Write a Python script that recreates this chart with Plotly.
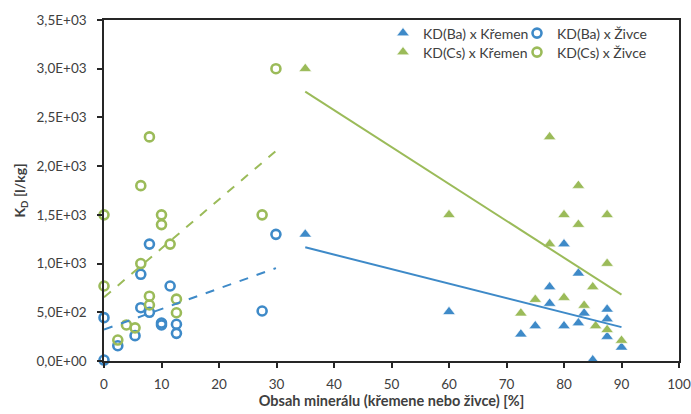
import numpy as np
import plotly.graph_objects as go

# ---- data ----
ba_krem_x = [35, 60, 72.5, 75, 77.5, 77.5, 80, 80, 82.5, 82.5, 83.5, 85, 87.5, 87.5, 87.5, 90]
ba_krem_y = [1300, 505, 275, 360, 760, 590, 1200, 360, 900, 390, 490, 10, 530, 430, 250, 140]

ba_ziv_x = [0, 0, 2.4, 5.4, 6.4, 6.4, 7.9, 7.9, 10, 10, 11.5, 12.6, 12.6, 27.5, 29.9]
ba_ziv_y = [10, 445, 157, 260, 547, 890, 500, 1200, 370, 390, 770, 377, 284, 513, 1300]

cs_krem_x = [35, 60, 72.5, 75, 77.5, 77.5, 80, 80, 82.5, 82.5, 83.5, 85, 85.5, 87.5, 87.5, 87.5, 90]
cs_krem_y = [3000, 1500, 490, 630, 2300, 1200, 1500, 650, 1800, 1400, 570, 760, 360, 1500, 1000, 320, 210]

cs_ziv_x = [0, 0, 2.4, 3.9, 5.4, 6.4, 6.4, 7.9, 7.9, 7.9, 10, 10, 11.5, 12.6, 12.6, 27.5, 29.9]
cs_ziv_y = [1500, 770, 215, 370, 340, 1800, 1000, 2300, 665, 575, 1500, 1400, 1200, 635, 495, 1500, 3000]

y_tickvals = [0, 500, 1000, 1500, 2000, 2500, 3000, 3500]
y_ticktext = ["0,0E+00", "5,0E+02", "1,0E+03", "1,5E+03", "2,0E+03", "2,5E+03", "3,0E+03", "3,5E+03"]
x_tickvals = [0, 10, 20, 30, 40, 50, 60, 70, 80, 90, 100]
x_ticktext = ["0", "10", "20", "30", "40", "50", "60", "70", "80", "90", "100"]

BLUE = "#3E8AC8"
GREEN = "#9BBB59"
FONT = "Lato"
TXT = "#404040"

# plot-area geometry in pixels (matches reference)
L, R, T, B = 104, 679, 20, 361
PW, PH = R - L, B - T

fig = go.Figure()


def add_points(x, y, name, color, symbol, legend):
    if symbol == "triangle":
        marker = dict(symbol="triangle-up", size=11, color=color,
                      line=dict(color="white", width=0.6))
    else:
        marker = dict(symbol="circle-open", size=9, color=color,
                      line=dict(color=color, width=2.6))
    fig.add_trace(go.Scatter(x=x, y=y, mode="markers", name=name, legend=legend,
                             marker=marker, cliponaxis=False))


def add_trend(x, y, color, dash):
    k, q = np.polyfit(np.array(x, float), np.array(y, float), 1)
    xs = np.array([min(x), max(x)], float)
    fig.add_trace(go.Scatter(x=xs, y=k * xs + q, mode="lines", showlegend=False,
                             hoverinfo="skip",
                             line=dict(color=color, width=2, dash=dash)))


add_points(ba_krem_x, ba_krem_y, "KD(Ba) x Křemen", BLUE, "triangle", "legend")
add_points(ba_ziv_x, ba_ziv_y, "KD(Ba) x Živce", BLUE, "circle", "legend2")
add_points(cs_krem_x, cs_krem_y, "KD(Cs) x Křemen", GREEN, "triangle", "legend3")
add_points(cs_ziv_x, cs_ziv_y, "KD(Cs) x Živce", GREEN, "circle", "legend4")

add_trend(ba_krem_x, ba_krem_y, BLUE, "solid")
add_trend(ba_ziv_x, ba_ziv_y, BLUE, "dash")
add_trend(cs_krem_x, cs_krem_y, GREEN, "solid")
add_trend(cs_ziv_x, cs_ziv_y, GREEN, "dash")

axis_common = dict(showgrid=False, zeroline=False, showline=True, mirror=True,
                   linecolor="#262626", linewidth=1.5, ticks="outside", ticklen=5,
                   tickwidth=1.5, tickcolor="#262626", automargin=False,
                   ticklabeloverflow="allow",
                   tickfont=dict(family=FONT, size=13.5, color=TXT))

fig.update_xaxes(range=[0, 100], tickvals=x_tickvals, ticktext=x_ticktext,
                 ticklabelstandoff=5,
                 title=dict(text="<b>Obsah minerálu (křemene nebo živce) [%]</b>",
                            standoff=4, font=dict(family=FONT, size=14.5, color=TXT)),
                 **axis_common)
fig.update_yaxes(range=[0, 3500], tickvals=y_tickvals, ticktext=y_ticktext,
                 ticklabelstandoff=8,
                 title=dict(text="<b>K<sub>D</sub> [l/kg]</b>", standoff=8,
                            font=dict(family=FONT, size=14, color=TXT)),
                 **axis_common)


def legend_box(x_px, y_px):
    return dict(orientation="v", yanchor="top", y=(B - y_px) / PH,
                x=(x_px - L) / PW, xanchor="left", bgcolor="rgba(0,0,0,0)",
                borderwidth=0, itemwidth=30,
                font=dict(family=FONT, size=14, color=TXT))


fig.update_layout(
    width=691, height=414,
    margin=dict(l=L, r=691 - R, t=T, b=414 - B, autoexpand=False),
    plot_bgcolor="white", paper_bgcolor="white",
    font=dict(family=FONT, size=14, color=TXT),
    legend=legend_box(383, 17.5),
    legend2=legend_box(517, 17.5),
    legend3=legend_box(383, 36.5),
    legend4=legend_box(517, 36.5),
    showlegend=True,
)

fig.write_html("out.html", config={"displayModeBar": False},
               post_script="document.body.style.margin='0';")
